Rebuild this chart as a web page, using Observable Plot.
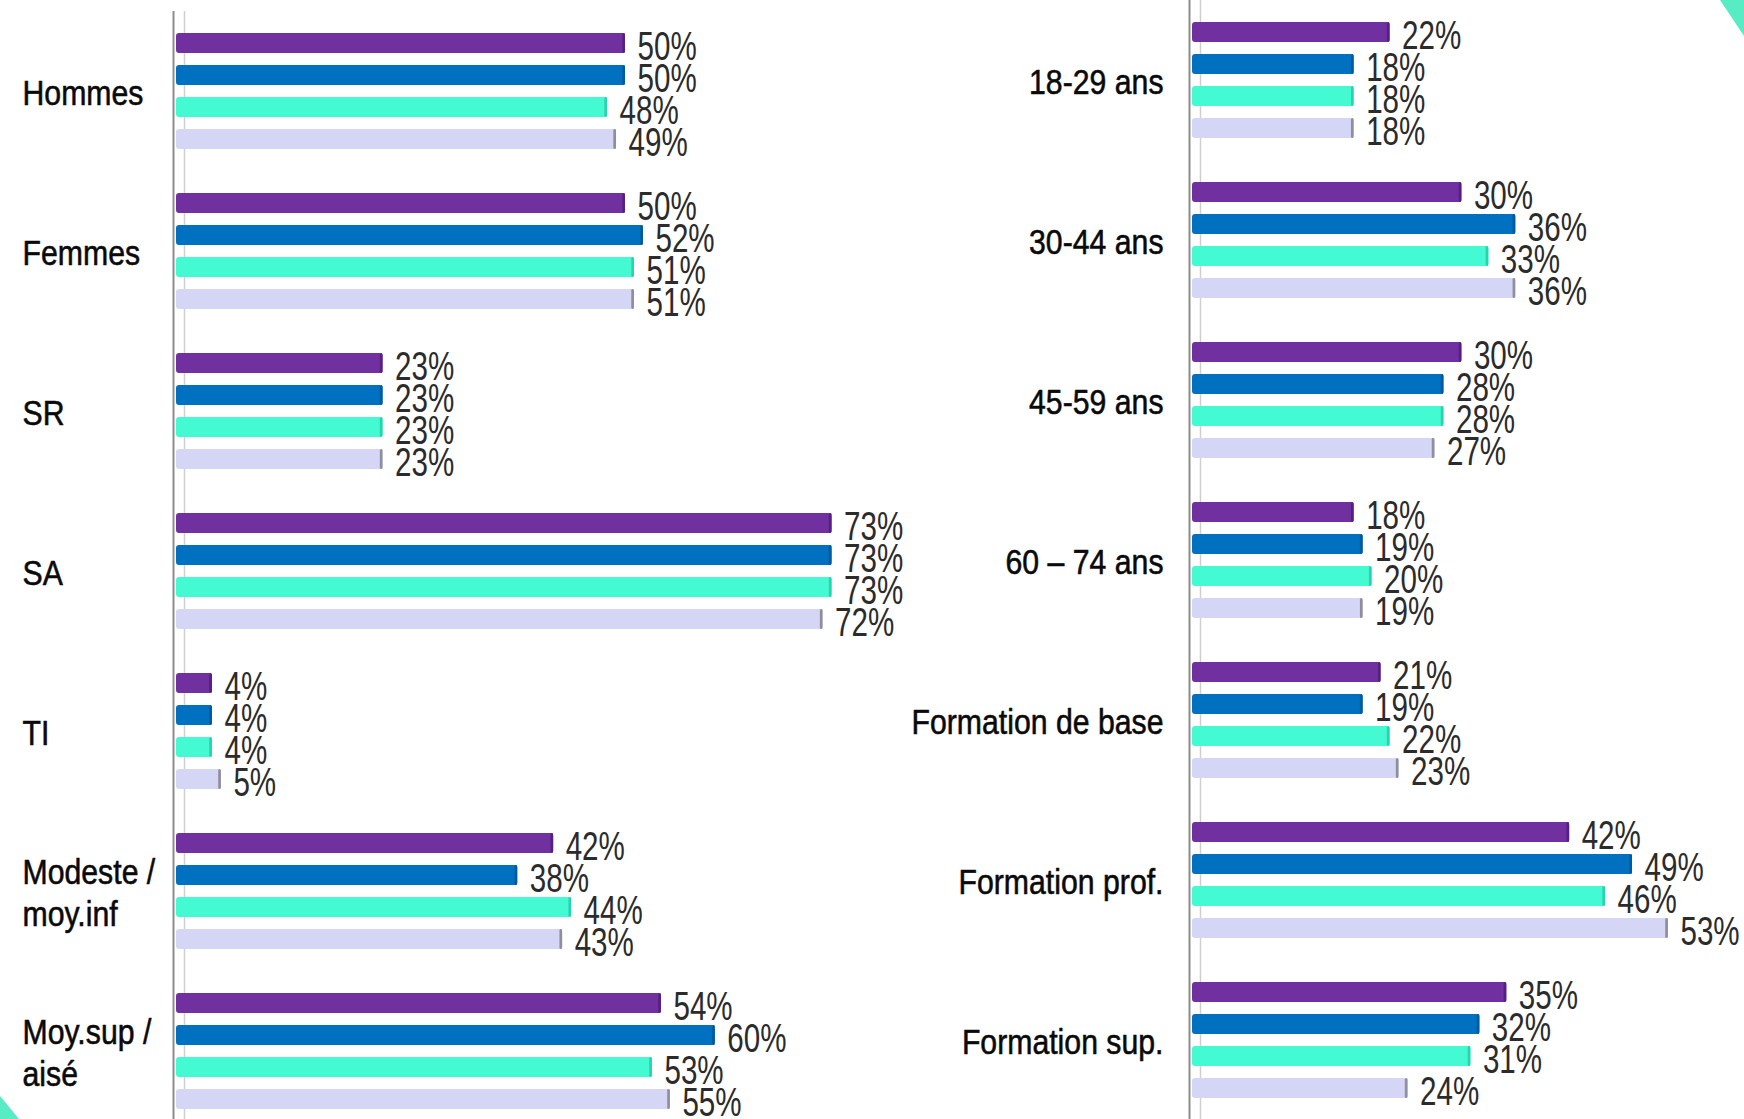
<!DOCTYPE html>
<html lang="fr">
<head>
<meta charset="utf-8">
<title>Profil par sexe, statut, âge et formation</title>
<script src="https://cdn.jsdelivr.net/npm/d3@7"></script>
<script src="https://cdn.jsdelivr.net/npm/@observablehq/plot@0.6"></script>
<style>
  html, body { margin: 0; padding: 0; background: #ffffff; }
  #page { position: relative; width: 1744px; height: 1119px; overflow: hidden; background: #ffffff; }
  #left, #right { position: absolute; top: 0; }
  #left { left: 0; width: 910px; }
  #right { left: 910px; width: 834px; }
  .corner { position: absolute; background: #57ecc4; }
  #corner-tr { left: 1700px; top: 0; width: 44px; height: 44px; clip-path: polygon(20px 0, 44px 0, 44px 36px); }
  #corner-bl { left: 0; top: 1090px; width: 30px; height: 29px; clip-path: polygon(0 6px, 19px 29px, 0 29px); }
</style>
</head>
<body>
<div id="page">
  <div id="left"></div>
  <div id="right"></div>
  <div class="corner" id="corner-tr"></div>
  <div class="corner" id="corner-bl"></div>
</div>
<script>
// Four series, shown in the same order within each group
const series = ["Série 1", "Série 2", "Série 3", "Série 4"];
const seriesColors = ["#7030a0", "#0070c0", "#43fad2", "#d5d5f5"];
const seriesEdges = ["#55207f", "#005a9c", "#2bd3ad", "#8e8e9c"];

// Left block: sex, status, income
const leftCategories = ["Hommes", "Femmes", "SR", "SA", "TI", "Modeste /\nmoy.inf", "Moy.sup /\naisé"];
const leftS1 = [50, 50, 23, 73, 4, 42, 54];
const leftS2 = [50, 52, 23, 73, 4, 38, 60];
const leftS3 = [48, 51, 23, 73, 4, 44, 53];
const leftS4 = [49, 51, 23, 72, 5, 43, 55];

// Right block: age and education
const rightCategories = ["18-29 ans", "30-44 ans", "45-59 ans", "60 – 74 ans", "Formation de base", "Formation prof.", "Formation sup."];
const rightS1 = [22, 30, 30, 18, 21, 42, 35];
const rightS2 = [18, 36, 28, 19, 19, 49, 32];
const rightS3 = [18, 33, 28, 20, 22, 46, 31];
const rightS4 = [18, 36, 27, 19, 23, 53, 24];

const FONT = "'Liberation Sans', Arial, sans-serif";
const PX_PER_PCT = 8.98;
// horizontal squeeze giving a narrow typeface look
const VALUE_SQUEEZE = 0.74;
const CATEGORY_SQUEEZE = 0.84;

function toRows(categories, columns) {
  const rows = [];
  categories.forEach((category, i) => {
    columns.forEach((values, j) => {
      rows.push({category, series: series[j], value: values[i]});
    });
  });
  return rows;
}

// Append a horizontal scale to each text of a text-mark group, around its own anchor
function squeeze(group, factor) {
  if (!group) return;
  group.querySelectorAll("text").forEach(t => {
    const tr = t.getAttribute("transform");
    if (tr) {
      t.setAttribute("transform", `${tr} scale(${factor},1)`);
    } else {
      const x = +t.getAttribute("x") || 0, y = +t.getAttribute("y") || 0;
      t.removeAttribute("x"); t.removeAttribute("y");
      t.setAttribute("transform", `translate(${x},${y}) scale(${factor},1)`);
      t.querySelectorAll("tspan").forEach(s => { if (s.hasAttribute("x")) s.setAttribute("x", 0); });
    }
  });
}

function groupedBars({categories, columns, width, height, marginLeft, marginTop, xMax, labelDx, labelAnchor}) {
  const rows = toRows(categories, columns);
  const marginRight = width - marginLeft - PX_PER_PCT * xMax;
  const edgeOf = new Map(series.map((s, i) => [s, seriesEdges[i]]));
  const axisSpan = {insetTop: -16, insetBottom: -16};
  const svg = Plot.plot({
    width,
    height,
    marginLeft,
    marginRight,
    marginTop,
    marginBottom: height - marginTop - 1088,
    style: {fontFamily: FONT, background: "transparent", overflow: "visible"},
    facet: {data: rows, y: "category"},
    fy: {domain: categories, axis: null, paddingInner: 0.2, paddingOuter: 0},
    y: {domain: series, axis: null, paddingInner: 0.375, paddingOuter: 0.1875},
    x: {domain: [0, xMax], axis: null},
    color: {domain: series, range: seriesColors},
    marks: [
      // back wall edge of the 3D axis
      Plot.ruleX([0], {stroke: "#cfcfcf", strokeWidth: 1.5, dx: 8, ...axisSpan}),
      Plot.barX(rows, {y: "series", x: "value", fill: "series", rx: 3}),
      // darker end face of each bar
      Plot.barX(rows, {y: "series", x1: d => d.value - 0.3, x2: "value", fill: d => edgeOf.get(d.series), rx: 1.5}),
      // front edge of the axis
      Plot.ruleX([0], {stroke: "#8d8d8d", strokeWidth: 2, dx: -3, ...axisSpan}),
      Plot.text(rows, {
        y: "series", x: "value", text: d => `${d.value}%`,
        textAnchor: "start", dx: 12, dy: 4, fontSize: 40, fill: "#2b2b2b"
      }),
      Plot.text(rows, {
        filter: d => d.series === series[0],
        text: "category", frameAnchor: "left", textAnchor: labelAnchor, dx: labelDx,
        fontSize: 36, lineHeight: 1.17, fill: "#0a0a0a",
        stroke: "#0a0a0a", strokeWidth: 0.6
      })
    ]
  });
  const textGroups = svg.querySelectorAll('g[aria-label="text"]');
  squeeze(textGroups[0], VALUE_SQUEEZE);
  squeeze(textGroups[1], CATEGORY_SQUEEZE);
  return svg;
}

document.getElementById("left").append(groupedBars({
  categories: leftCategories,
  columns: [leftS1, leftS2, leftS3, leftS4],
  width: 910, height: 1119, marginLeft: 176, marginTop: 27, xMax: 80,
  labelDx: -154, labelAnchor: "start"
}));

document.getElementById("right").append(groupedBars({
  categories: rightCategories,
  columns: [rightS1, rightS2, rightS3, rightS4],
  width: 834, height: 1119, marginLeft: 282, marginTop: 16, xMax: 60,
  labelDx: -29, labelAnchor: "end"
}));
</script>
</body>
</html>
